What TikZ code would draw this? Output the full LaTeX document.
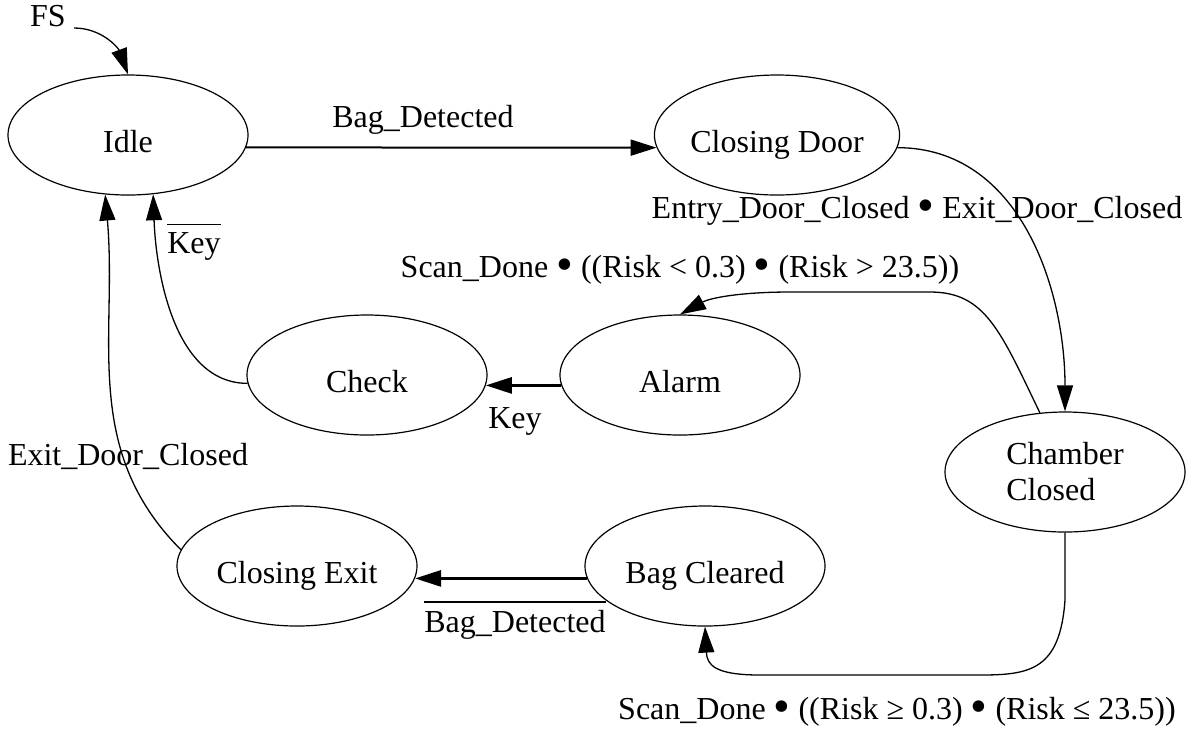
\documentclass[tikz,border=0pt]{standalone}
\usepackage{fontspec}
\usepackage{graphicx}
\setmainfont{Liberation Serif}
\usetikzlibrary{shapes.geometric,arrows.meta}
% negated signal: a bar over the name
\newcommand{\notsig}[1]{\vbox{\hrule height 0.9pt\kern 3.5pt\hbox{#1}}}
% logical and, as a big dot
\newcommand{\band}{\raisebox{-1.6pt}{\scalebox{1.5}{•}}}

\begin{document}
\begin{tikzpicture}[
  x=0.5pt, y=0.5pt,
  font=\fontsize{16pt}{18pt}\selectfont,
  state/.style={draw, ellipse, line width=0.6pt, minimum width=120pt, minimum height=60pt,
                inner sep=0pt, text height=17pt, text depth=0pt},
  statetwo/.style={draw, ellipse, line width=0.6pt, minimum width=120pt, minimum height=60pt,
                   inner sep=0pt, align=left},
  arr/.style={-{Triangle[length=13pt,width=8pt]}, line width=0.65pt},
  boldarr/.style={arr, line width=1.4pt},
  lbl/.style={inner sep=1pt},
]
  \useasboundingbox (0,0) rectangle (1198,-736);

  % states
  \node[state] (Idle) at (128,-135) {Idle};
  \node[state] (Door) at (777,-135) {Closing Door};
  \node[state] (Check) at (367,-375) {Check};
  \node[state] (Alarm) at (680,-375) {Alarm};
  \node[statetwo] (Chamber) at (1065,-472) {Chamber\\Closed};
  \node[state] (Cleared) at (705,-566) {Bag Cleared};
  \node[state] (Exit) at (297,-566) {Closing Exit};

  % initial state
  \node[lbl] (FS) at (48,-16) {FS};
  \draw[arr] ([xshift=3pt,yshift=-6pt]FS.east) to[out=0,in=110] (Idle.north);

  % top row
  \draw[arr, line width=1pt] (Idle.-6) -- (Door.186);
  \node[lbl] (lDetect) at (423,-120) {Bag\_Detected};

  \draw[arr] (Door.-6) to[out=0,in=90] (Chamber.north);
  \node[lbl] (lDoors) at (917,-211) {Entry\_Door\_Closed \band{} Exit\_Door\_Closed};

  % risk out of range
  \draw[arr] (Chamber.113) .. controls (1000,-330) and (985,-292) .. (930,-292)
    -- (790,-292) .. controls (740,-292) and (710,-298) .. (Alarm.north);
  \node[lbl] (lHigh) at (680,-270) {Scan\_Done \band{} ((Risk < 0.3) \band{} (Risk > 23.5))};

  \draw[boldarr] (Alarm.185) -- (Check.-5);
  \node[lbl] (lKey) at (515,-421) {Key};

  \draw[arr] (Check.184) to[out=180,in=-88,looseness=0.9] (Idle.-67);
  \node[lbl] (lNoKey) at (194,-242) {\notsig{Key}};

  % risk in range
  \draw[arr] (Chamber.south) -- (1065,-600) .. controls (1060,-670) and (1030,-675) .. (980,-675)
    -- (760,-675) .. controls (715,-675) and (707,-665) .. (Cleared.south);
  \node[lbl] (lLow) at (897,-712) {Scan\_Done \band{} ((Risk ≥ 0.3) \band{} (Risk ≤ 23.5))};

  \draw[boldarr] (Cleared.186) -- (Exit.-6);
  \node[lbl] (lNoBag) at (515,-620) {\notsig{Bag\_Detected}};

  \draw[arr] (Exit.172) to[out=135,in=-85] (Idle.-111);
  \node[lbl] (lExit) at (128,-456) {Exit\_Door\_Closed};
\end{tikzpicture}
\end{document}
